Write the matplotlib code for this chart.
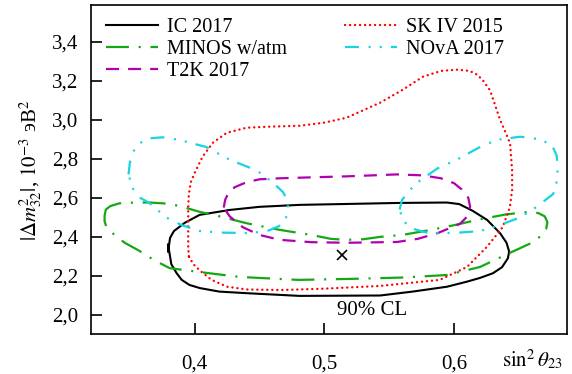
import matplotlib.pyplot as plt

plt.rcParams['font.family'] = ['Liberation Serif', 'DejaVu Serif']
plt.rcParams['mathtext.fontset'] = 'stix'
plt.rcParams['lines.scale_dashes'] = False

# contours (sin^2 theta23, dm2_32 in 1e-3 eV^2)
ic_x = [0.3795, 0.3795, 0.381, 0.384, 0.3923, 0.4039, 0.427, 0.450, 0.481, 0.520, 0.558, 0.5946,
        0.604, 0.614, 0.6255, 0.6355, 0.6405, 0.6425, 0.6415, 0.637, 0.630, 0.620, 0.610, 0.5946,
        0.568, 0.543, 0.481, 0.4425, 0.419, 0.404, 0.396, 0.390, 0.386, 0.382]
ic_y = [2.36, 2.323, 2.395, 2.43, 2.472, 2.513, 2.538, 2.554, 2.564, 2.569, 2.574, 2.576,
        2.568, 2.535, 2.487, 2.419, 2.37, 2.325, 2.29, 2.245, 2.214, 2.19, 2.171, 2.145,
        2.12, 2.10, 2.098, 2.111, 2.12, 2.138, 2.154, 2.18, 2.215, 2.26]

sk_x = [0.3955, 0.395, 0.395, 0.395, 0.3955, 0.397, 0.400, 0.406, 0.414, 0.4247, 0.440, 0.4556,
        0.481, 0.500, 0.517, 0.543, 0.5606, 0.576, 0.590, 0.6023, 0.612, 0.618, 0.6224, 0.6278,
        0.6355, 0.6432, 0.6448, 0.6448, 0.643, 0.6375, 0.6255, 0.610, 0.589, 0.543, 0.500, 0.466,
        0.440, 0.425, 0.413, 0.4045, 0.399]
sk_y = [2.30, 2.35, 2.45, 2.55, 2.62, 2.68, 2.728, 2.81, 2.882, 2.933, 2.959, 2.964,
        2.969, 2.985, 3.01, 3.087, 3.154, 3.22, 3.25, 3.256, 3.25, 3.23, 3.20, 3.15,
        3.00, 2.88, 2.74, 2.64, 2.55, 2.45, 2.35, 2.246, 2.18, 2.149, 2.135, 2.128,
        2.131, 2.145, 2.18, 2.225, 2.26]

minos_x = [0.3305, 0.3315, 0.335, 0.342, 0.3537, 0.3653, 0.380, 0.390, 0.404, 0.420, 0.440, 0.4656,
           0.490, 0.505, 0.5174, 0.530, 0.5429, 0.560, 0.5815, 0.600, 0.620, 0.640, 0.657, 0.665,
           0.670, 0.672, 0.671, 0.668, 0.660, 0.643, 0.620, 0.5946, 0.560, 0.520, 0.480, 0.4347,
           0.4039, 0.3807, 0.369, 0.357, 0.346, 0.3365, 0.332, 0.3305]
minos_y = [2.51, 2.54, 2.558, 2.572, 2.576, 2.576, 2.57, 2.555, 2.528, 2.504, 2.47, 2.436,
           2.41, 2.39, 2.385, 2.388, 2.40, 2.41, 2.435, 2.46, 2.49, 2.515, 2.528, 2.522,
           2.505, 2.475, 2.44, 2.41, 2.37, 2.318, 2.246, 2.205, 2.192, 2.185, 2.18, 2.195,
           2.22, 2.24, 2.28, 2.33, 2.37, 2.42, 2.45, 2.48]

t2k_x = [0.4224, 0.4235, 0.426, 0.431, 0.440, 0.450, 0.4656, 0.490, 0.5174, 0.556, 0.576, 0.590,
         0.600, 0.6065, 0.611, 0.6124, 0.611, 0.6046, 0.5876, 0.572, 0.556, 0.5174, 0.490, 0.4656,
         0.450, 0.437, 0.427]
t2k_y = [2.55, 2.59, 2.625, 2.655, 2.68, 2.695, 2.70, 2.705, 2.71, 2.72, 2.715, 2.70,
         2.675, 2.64, 2.60, 2.555, 2.51, 2.467, 2.42, 2.39, 2.374, 2.37, 2.373, 2.385,
         2.41, 2.45, 2.505]

nova_left_x = [0.349, 0.350, 0.353, 0.3575, 0.366, 0.375, 0.388, 0.409, 0.427, 0.448, 0.460, 0.468,
               0.4715, 0.472, 0.4705, 0.465, 0.455, 0.440, 0.420, 0.404, 0.390, 0.378, 0.365, 0.358,
               0.352]
nova_left_y = [2.72, 2.78, 2.84, 2.88, 2.905, 2.91, 2.897, 2.86, 2.795, 2.74, 2.68, 2.63,
               2.59, 2.55, 2.50, 2.455, 2.427, 2.42, 2.422, 2.43, 2.46, 2.50, 2.574, 2.60,
               2.65]
nova_right_x = [0.558, 0.560, 0.566, 0.5714, 0.587, 0.602, 0.620, 0.633, 0.651, 0.666, 0.6755, 0.679,
                0.680, 0.6795, 0.6765, 0.664, 0.651, 0.635, 0.620, 0.600, 0.580, 0.566, 0.5606]
nova_right_y = [2.54, 2.59, 2.64, 2.677, 2.75, 2.795, 2.86, 2.897, 2.913, 2.90, 2.87, 2.82,
                2.76, 2.69, 2.62, 2.555, 2.50, 2.46, 2.43, 2.42, 2.42, 2.446, 2.487]

best_fit = (0.5135, 2.307)

yticks = [2.0, 2.2, 2.4, 2.6, 2.8, 3.0, 3.2, 3.4]
ytick_labels = ['2,0', '2,2', '2,4', '2,6', '2,8', '3,0', '3,2', '3,4']
xticks = [0.4, 0.5, 0.6]
xtick_labels = ['0,4', '0,5', '0,6']


def closed(xs, ys):
    return list(xs) + [xs[0]], list(ys) + [ys[0]]


fig = plt.figure(figsize=(5.72, 3.74), dpi=100)
ax = fig.add_axes([0.159, 0.107, 0.832, 0.880])

x, y = closed(ic_x, ic_y)
ax.plot(x, y, color='black', lw=1.5, label='IC 2017')
x, y = closed(minos_x, minos_y)
ax.plot(x, y, color='#14a814', lw=1.6, linestyle=(0, (16.5, 7, 1.5, 7)),
        label='MINOS w/atm')
x, y = closed(t2k_x, t2k_y)
ax.plot(x, y, color='#b000b0', lw=1.6, linestyle=(0, (9.4, 6.5)), label='T2K 2017')
x, y = closed(sk_x, sk_y)
ax.plot(x, y, color='#ff0000', lw=1.7, linestyle=(0, (0.1, 3.5)),
        dash_capstyle='round', label='SK IV 2015')
x, y = closed(nova_left_x, nova_left_y)
ax.plot(x, y, color='#18d4e0', lw=1.6, linestyle=(0, (10, 7, 1.5, 6.5, 1.5, 6.5)),
        label='NOvA 2017')
x, y = closed(nova_right_x, nova_right_y)
ax.plot(x, y, color='#18d4e0', lw=1.6, linestyle=(0, (10, 7, 1.5, 6.5, 1.5, 6.5)))

ax.plot([best_fit[0]], [best_fit[1]], marker='x', color='black', ms=7, mew=1.2)
ax.text(0.537, 2.022, '90% CL', fontsize=15, ha='center', va='center')

ax.set_xlim(0.320, 0.687)
ax.set_ylim(1.903, 3.588)
ax.set_xticks(xticks)
ax.set_xticklabels(xtick_labels)
ax.set_yticks(yticks)
ax.set_yticklabels(ytick_labels)
ax.tick_params(direction='in', length=8, width=1.2, labelsize=15)
ax.tick_params(axis='x', pad=15)
ax.tick_params(axis='y', pad=9)
for s in ax.spines.values():
    s.set_linewidth(1.2)

ax.legend(ncol=2, loc='upper left', bbox_to_anchor=(0.031, 0.961), frameon=False,
          fontsize=14.5, handlelength=2.6, handletextpad=0.45, labelspacing=0.15,
          columnspacing=2.85, borderpad=0, borderaxespad=0)

fig.text(0.985, 0.037, r'$\sin^2\theta_{23}$', fontsize=15, ha='right', va='center')
fig.text(0.054, 0.545, r'$|\Delta m^2_{32}|$, $10^{-3}$ эВ$^2$', fontsize=15,
         rotation=90, ha='center', va='center')

fig.savefig('out.png', dpi=100)
